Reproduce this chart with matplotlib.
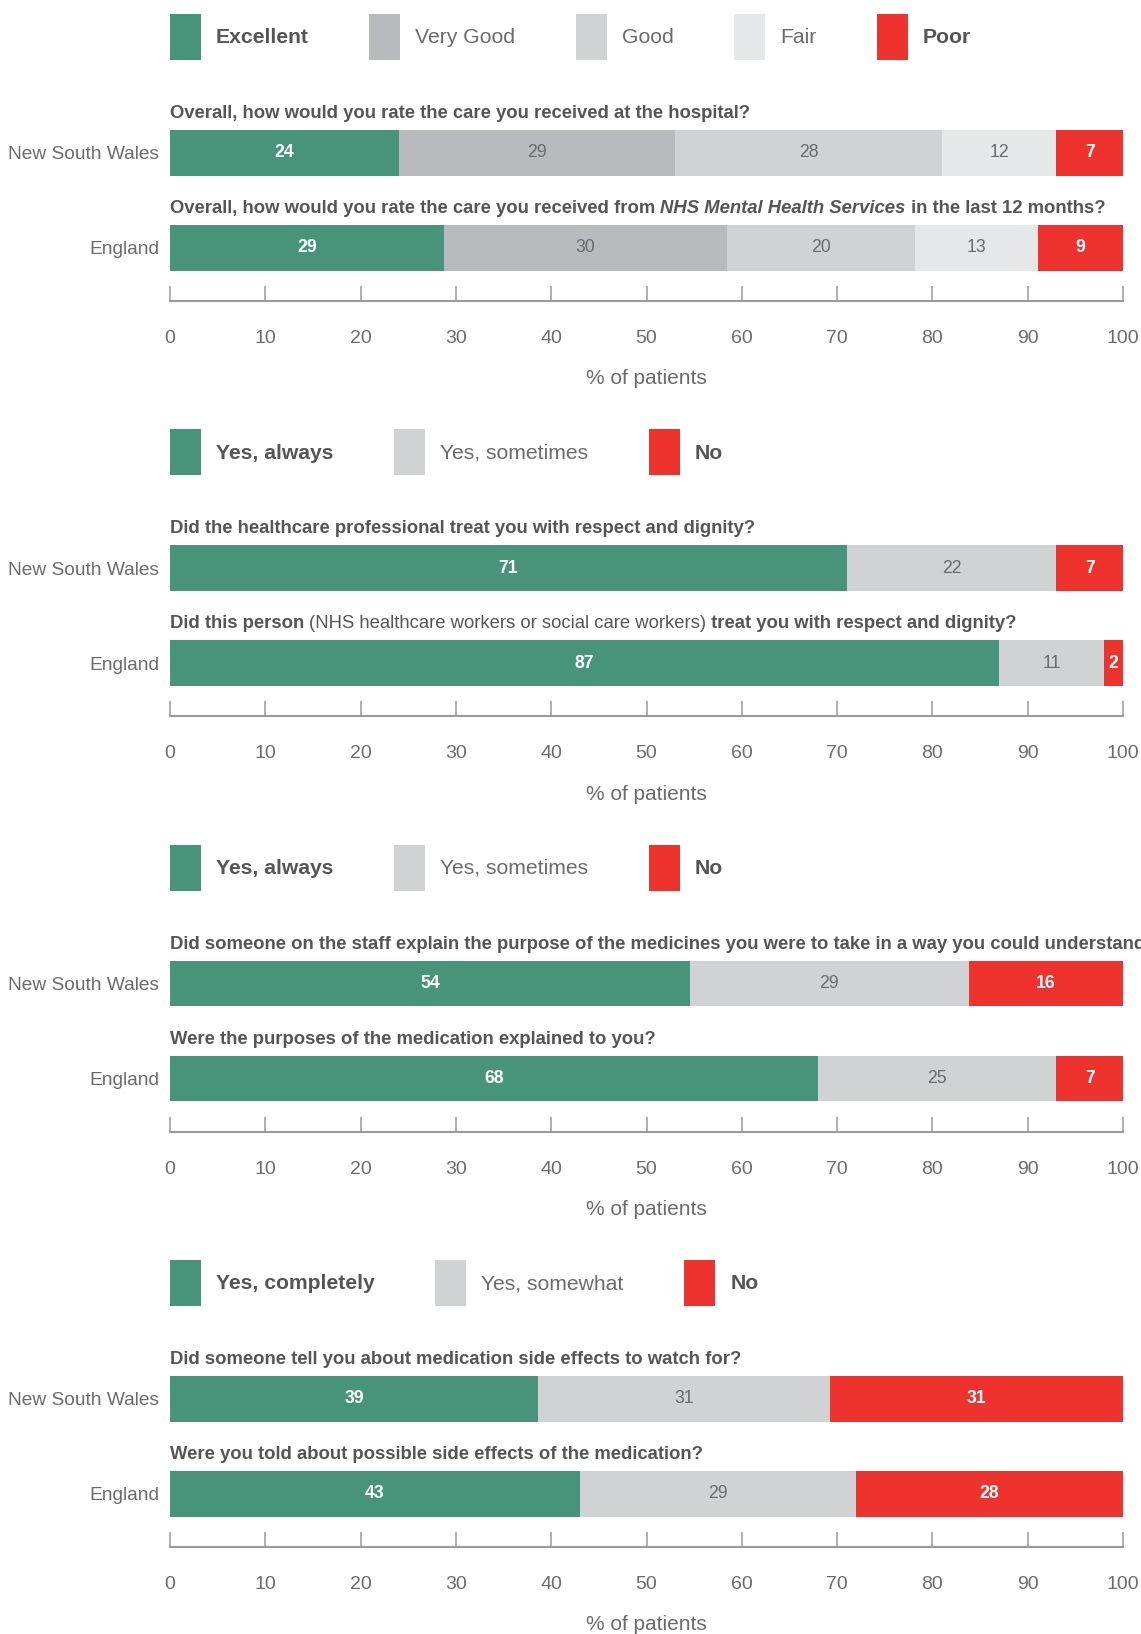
import matplotlib
matplotlib.use("Agg")
import matplotlib.pyplot as plt
from matplotlib.patches import Patch

plt.rcParams['font.family'] = ['Liberation Sans', 'DejaVu Sans']

# ---- data -------------------------------------------------------------
regions = ["New South Wales", "England"]

rating_labels = ["Excellent", "Very Good", "Good", "Fair", "Poor"]
rating_nsw = [24, 29, 28, 12, 7]
rating_eng = [29, 30, 20, 13, 9]

respect_labels = ["Yes, always", "Yes, sometimes", "No"]
respect_nsw = [71, 22, 7]
respect_eng = [87, 11, 2]

purpose_labels = ["Yes, always", "Yes, sometimes", "No"]
purpose_nsw = [54, 29, 16]
purpose_eng = [68, 25, 7]

side_labels = ["Yes, completely", "Yes, somewhat", "No"]
side_nsw = [39, 31, 31]
side_eng = [43, 29, 28]

# question texts as (segment, weight, style) runs
q_rating_nsw = [("Overall, how would you rate the care you received at the hospital?", "bold", "normal")]
q_rating_eng = [("Overall, how would you rate the care you received from ", "bold", "normal"),
                ("NHS Mental Health Services", "bold", "italic"),
                (" in the last 12 months?", "bold", "normal")]
q_respect_nsw = [("Did the healthcare professional treat you with respect and dignity?", "bold", "normal")]
q_respect_eng = [("Did this person ", "bold", "normal"),
                 ("(NHS healthcare workers or social care workers)", "normal", "normal"),
                 (" treat you with respect and dignity?", "bold", "normal")]
q_purpose_nsw = [("Did someone on the staff explain the purpose of the medicines you were to take "
                  "in a way you could understand?", "bold", "normal")]
q_purpose_eng = [("Were the purposes of the medication explained to you?", "bold", "normal")]
q_side_nsw = [("Did someone tell you about medication side effects to watch for?", "bold", "normal")]
q_side_eng = [("Were you told about possible side effects of the medication?", "bold", "normal")]

# ---- style ------------------------------------------------------------
GREEN = "#48947A"
GREY1 = "#B9BABD"
GREY2 = "#D1D2D4"
GREY3 = "#E6E7E8"
RED = "#EE322D"
DARK = "#555555"
MID = "#6B6B6B"
AXIS = "#9A9A9A"

colors5 = [GREEN, GREY1, GREY2, GREY3, RED]
colors3 = [GREEN, GREY2, RED]

panels = [
    (rating_labels, colors5, [rating_nsw, rating_eng], [q_rating_nsw, q_rating_eng]),
    (respect_labels, colors3, [respect_nsw, respect_eng], [q_respect_nsw, q_respect_eng]),
    (purpose_labels, colors3, [purpose_nsw, purpose_eng], [q_purpose_nsw, q_purpose_eng]),
    (side_labels, colors3, [side_nsw, side_eng], [q_side_nsw, q_side_eng]),
]

W, H = 1141, 1634
fig = plt.figure(figsize=(W / 100, H / 100), dpi=100)
fig.patch.set_facecolor("white")

STEP = 415.4
BAR_H = 0.479


def draw_runs(ax, y, runs, size=13.35):
    prev = None
    for text, weight, style in runs:
        kw = dict(fontsize=size, fontweight=weight, fontstyle=style, color=DARK)
        if prev is None:
            prev = ax.text(0, y, text, ha="left", va="center", clip_on=False, **kw)
        else:
            prev = ax.annotate(text, xy=(1, 0), xycoords=prev, ha="left", va="bottom", **kw)


for p, (labels, cols, rows, questions) in enumerate(panels):
    off = p * STEP
    top, bottom = 130 + off, 301 + off
    ax = fig.add_axes([170 / W, 1 - bottom / H, 953 / W, (bottom - top) / H])

    for i, vals in enumerate(rows):
        total = sum(vals)
        left = 0.0
        for j, v in enumerate(vals):
            w = v / total * 100
            ax.barh(i, w, left=left, height=BAR_H, color=cols[j], linewidth=0)
            if j == 0 or j == len(vals) - 1:
                tc, fw = "white", "bold"
            else:
                tc, fw = MID, "normal"
            ax.text(left + w / 2, i, str(v), ha="center", va="center",
                    fontsize=12.7, color=tc, fontweight=fw)
            left += w
        draw_runs(ax, i - 0.415, questions[i])

    ax.set_xlim(0, 100)
    ax.set_ylim(1.56, -0.24)
    ax.set_yticks([0, 1], regions)
    ax.set_xticks(range(0, 101, 10))
    ax.tick_params(axis="y", length=0, pad=8, labelsize=13.8, labelcolor=MID)
    ax.tick_params(axis="x", direction="in", length=10.8, width=1.1, color=AXIS,
                   pad=20.8, labelsize=14, labelcolor=MID)
    for s in ("top", "left", "right"):
        ax.spines[s].set_visible(False)
    ax.spines["bottom"].set_color(AXIS)
    ax.spines["bottom"].set_linewidth(1.5)
    ax.set_xlabel("% of patients", fontsize=15, color=MID, labelpad=16)
    ax.set_facecolor("none")

    # legend row above the panel
    fs = 15.2
    px = fs * 100 / 72
    hh = (46 / px - 0.245) / 0.65
    handles = [Patch(facecolor=c, edgecolor="none") for c in cols]
    leg = fig.legend(handles, labels, loc="upper left",
                     bbox_to_anchor=(170 / W, 1 - (14 + off) / H),
                     ncol=len(labels), frameon=False, fontsize=fs,
                     borderpad=0, borderaxespad=0,
                     handlelength=31 / px, handleheight=hh,
                     handletextpad=15 / px, columnspacing=60.5 / px)
    texts = leg.get_texts()
    for k, t in enumerate(texts):
        if k == 0 or k == len(texts) - 1:
            t.set_fontweight("bold")
            t.set_color(DARK)
        else:
            t.set_color(MID)

fig.savefig("out.png", dpi=100, facecolor="white")
